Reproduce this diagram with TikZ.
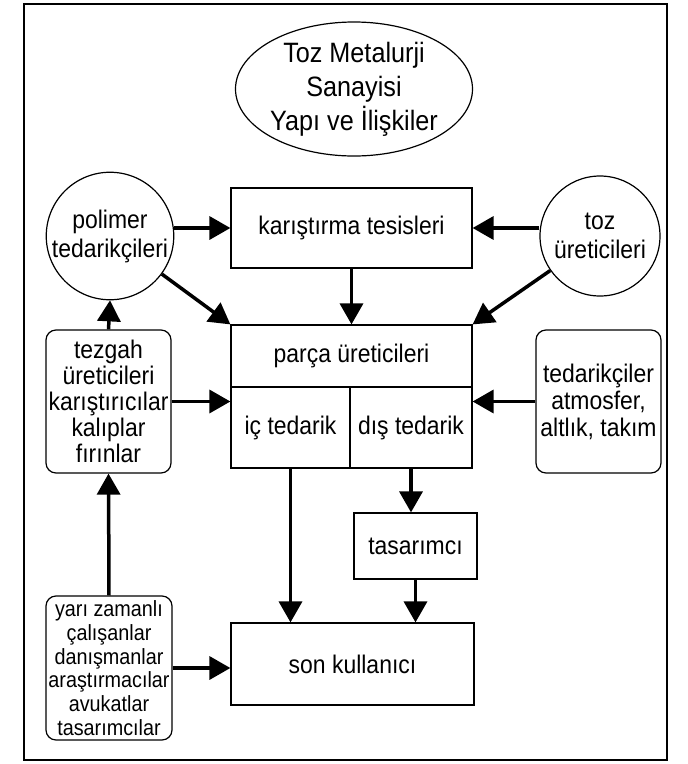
\documentclass[tikz,border=0pt]{standalone}
\usepackage{fontspec}
\setmainfont[FakeStretch=0.9]{Liberation Sans}
\usetikzlibrary{arrows.meta,shapes.geometric}
\begin{document}
\begin{tikzpicture}[x=1pt,y=-1pt,
  box/.style={draw,line width=1.2pt,inner sep=0pt,align=center,font=\fontsize{25.5}{27}\selectfont},
  rbox/.style={box,rounded corners=10pt},
  circ/.style={draw,circle,line width=1.2pt,minimum size=120pt,inner sep=0pt,align=center,font=\fontsize{25.5}{29}\selectfont},
  arr/.style={line width=3.5pt,-{Triangle[length=21pt,width=23pt]}}]
\useasboundingbox (0,0) rectangle (688,764);
\draw[line width=2.5pt] (24,4) rectangle (667,760);
\node[draw,ellipse,line width=1.2pt,minimum width=230pt,minimum height=134pt,inner sep=0pt,align=center,font=\fontsize{28}{34}\selectfont] (title) at (354,89) {Toz Metalurji\\Sanayisi\\Yapı ve İlişkiler};
\node[circ] (polimer) at (110,236) {polimer\\tedarikçileri};
\node[circ] (toz) at (600,236) {toz\\üreticileri};
\node[box,minimum width=241pt,minimum height=80pt] (kar) at (351.5,228) {karıştırma tesisleri};
\node[box,minimum width=241pt,minimum height=62pt] (parca) at (351.5,356) {parça üreticileri};
\node[box,minimum width=119pt,minimum height=81pt] (ic) at (290.5,427.5) {iç tedarik};
\node[box,minimum width=122pt,minimum height=81pt] (dis) at (411,427.5) {dış tedarik};
\node[rbox,minimum width=125pt,minimum height=143pt,font=\fontsize{25.5}{26}\selectfont] (tezgah) at (108.5,401.5) {tezgah\\üreticileri\\karıştırıcılar\\kalıplar\\fırınlar};
\node[rbox,minimum width=125pt,minimum height=143pt] (tedarik) at (598.5,401.5) {tedarikçiler\\atmosfer,\\altlık, takım};
\node[box,minimum width=123pt,minimum height=66pt] (tas) at (415.5,546) {tasarımcı};
\node[box,minimum width=243pt,minimum height=82pt] (son) at (352.5,664) {son kullanıcı};
\node[rbox,minimum width=126pt,minimum height=144pt,font=\fontsize{22}{23.7}\selectfont] (yari) at (109,668) {yarı zamanlı\\çalışanlar\\danışmanlar\\araştırmacılar\\avukatlar\\tasarımcılar};
\draw[arr] (polimer.east |- kar.west) -- (kar.west);
\draw[arr] (toz.west |- kar.east) -- (kar.east);
\draw[arr] (kar.south) -- (parca.north);
\draw[arr] (polimer) -- (parca.north west);
\draw[arr] (toz) -- (parca.north east);
\draw[arr] (tezgah.east) -- (tezgah.east -| ic.west);
\draw[arr] (tedarik.west) -- (tedarik.west -| dis.east);
\draw[arr] (tezgah.north) -- (polimer.south);
\draw[arr] (ic.south) -- (ic.south |- son.north);
\draw[arr] (dis.south) -- (dis.south |- tas.north);
\draw[arr] (tas.south) -- (tas.south |- son.north);
\draw[arr] (yari.north) -- (tezgah.south);
\draw[arr] (yari.east) -- (yari.east -| son.west);
\end{tikzpicture}
\end{document}
